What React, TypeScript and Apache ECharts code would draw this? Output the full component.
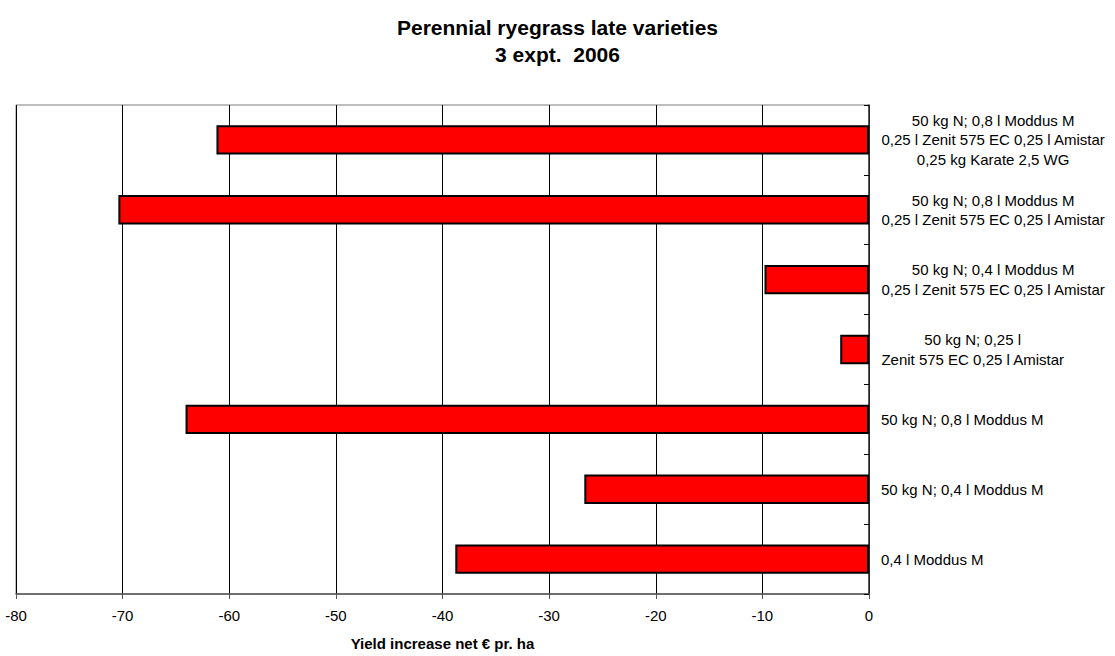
import React, { useEffect, useRef } from "react";
import * as echarts from "echarts";

const titleLines = ["Perennial ryegrass late varieties", "3 expt.  2006"];
const categories = [
  ["50 kg N; 0,8 l Moddus M", "0,25 l Zenit 575 EC 0,25 l Amistar", "0,25 kg Karate 2,5 WG"],
  ["50 kg N; 0,8 l Moddus M", "0,25 l Zenit 575 EC 0,25 l Amistar"],
  ["50 kg N; 0,4 l Moddus M", "0,25 l Zenit 575 EC 0,25 l Amistar"],
  ["50 kg N; 0,25 l", "Zenit 575 EC 0,25 l Amistar"],
  ["50 kg N; 0,8 l Moddus M"],
  ["50 kg N; 0,4 l Moddus M"],
  ["0,4 l Moddus M"],
];
const values = [-61.2, -70.4, -9.8, -2.7, -64.1, -26.7, -38.8];
const xAxisName = "Yield increase net € pr. ha";
const xMin = -80;
const xMax = 0;
const xInterval = 10;

export default function App() {
  const ref = useRef<HTMLDivElement>(null);
  useEffect(() => {
    if (!ref.current) return;
    const chart = echarts.init(ref.current, null, { renderer: "svg" });
    const font = "Arial, 'Liberation Sans', Helvetica, sans-serif";
    const catKeys = categories.map((c) => c.join("\n"));
    chart.setOption({
      animation: false,
      backgroundColor: "#ffffff",
      textStyle: { fontFamily: font },
      title: {
        text: titleLines.join("\n"),
        left: "center",
        top: 9,
        textStyle: {
          fontFamily: font,
          fontSize: 21,
          fontWeight: "bold",
          color: "#000",
          lineHeight: 27,
        },
      },
      grid: {
        left: 16,
        right: 246,
        top: 105,
        bottom: 60,
        show: true,
        borderColor: "#808080",
        borderWidth: 1,
        backgroundColor: "#ffffff",
      },
      xAxis: {
        type: "value",
        min: xMin,
        max: xMax,
        interval: xInterval,
        name: xAxisName,
        nameLocation: "middle",
        nameGap: 42,
        nameTextStyle: {
          fontFamily: font,
          fontSize: 15,
          fontWeight: "bold",
          color: "#000",
        },
        axisLine: { show: true, lineStyle: { color: "#555", width: 1.5 } },
        axisTick: { show: true, length: 5, lineStyle: { color: "#555" } },
        axisLabel: { fontFamily: font, fontSize: 15, color: "#000", margin: 14 },
        splitLine: { show: true, lineStyle: { color: "#000", width: 1 } },
      },
      yAxis: {
        type: "category",
        position: "right",
        inverse: true,
        data: catKeys,
        axisLine: { show: true, onZero: false, lineStyle: { color: "#333", width: 1.5 } },
        axisTick: { show: true, inside: true, length: 5, lineStyle: { color: "#000" } },
        splitLine: { show: false },
        axisLabel: {
          margin: 12,
          align: "left",
          fontFamily: font,
          fontSize: 15,
          color: "#000",
          lineHeight: 19.5,
          formatter: (v: string) =>
            v
              .split("\n")
              .map((l) => `{c|${l}}`)
              .join("\n"),
          rich: {
            c: {
              align: "center",
              fontFamily: font,
              fontSize: 15,
              color: "#000",
              lineHeight: 19.5,
            },
          },
        },
      },
      series: [
        {
          type: "bar",
          data: values,
          barWidth: "42%",
          itemStyle: { color: "#ff0000", borderColor: "#000", borderWidth: 2 },
        },
      ],
    });
    return () => chart.dispose();
  }, []);
  return (
    <div
      ref={ref}
      style={{ position: "absolute", left: 0, top: 0, width: 1115, height: 656 }}
    />
  );
}
